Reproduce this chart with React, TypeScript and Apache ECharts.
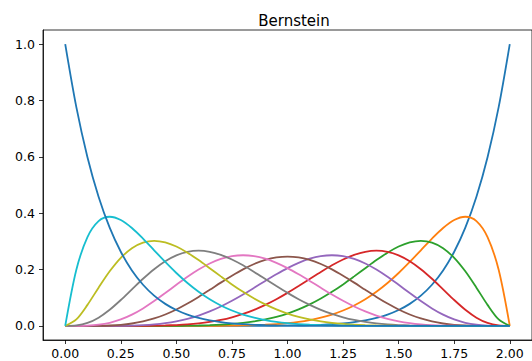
import React, { useEffect, useRef } from "react";
import * as echarts from "echarts";

const xValues = [
  0, 0.05, 0.1, 0.15, 0.2, 0.25, 0.3, 0.35, 0.4, 0.45, 0.5, 0.55, 0.6, 0.65, 0.7, 0.75, 0.8, 0.85, 0.9, 0.95,
  1.0, 1.05, 1.1, 1.15, 1.2, 1.25, 1.3, 1.35, 1.4, 1.45, 1.5, 1.55, 1.6, 1.65, 1.7, 1.75, 1.8, 1.85, 1.9, 1.95, 2.0,
];

// Bernstein basis b0..b10 read at the x positions above
const b0 = [1, 0.7763, 0.5987, 0.4586, 0.3487, 0.2631, 0.1969, 0.1461, 0.1074, 0.0782, 0.0563, 0.0401, 0.0282, 0.0196, 0.0135, 0.0091, 0.0060, 0.0040, 0.0025, 0.0016, 0.0010,
  0.0006, 0.0003, 0.0002, 0.0001, 0.0001, 0, 0, 0, 0, 0, 0, 0, 0, 0, 0, 0, 0, 0, 0, 0];
const b1 = [0, 0.1991, 0.3151, 0.3718, 0.3874, 0.3758, 0.3474, 0.3098, 0.2684, 0.2269, 0.1877, 0.1522, 0.1211, 0.0945, 0.0725, 0.0546, 0.0403, 0.0292, 0.0207, 0.0144, 0.0098,
  0.0065, 0.0042, 0.0026, 0.0016, 0.0009, 0.0005, 0.0003, 0.0001, 0.0001, 0, 0, 0, 0, 0, 0, 0, 0, 0, 0, 0];
const b2 = [0, 0.0230, 0.0746, 0.1357, 0.1937, 0.2416, 0.2759, 0.2957, 0.3020, 0.2965, 0.2816, 0.2598, 0.2335, 0.2048, 0.1757, 0.1473, 0.1209, 0.0971, 0.0763, 0.0586, 0.0439,
  0.0321, 0.0229, 0.0158, 0.0106, 0.0069, 0.0043, 0.0026, 0.0014, 0.0008, 0.0004, 0.0002, 0.0001, 0, 0, 0, 0, 0, 0, 0, 0];
const b3 = [0, 0.0016, 0.0105, 0.0293, 0.0574, 0.0920, 0.1298, 0.1673, 0.2013, 0.2295, 0.2503, 0.2628, 0.2668, 0.2630, 0.2522, 0.2357, 0.2150, 0.1914, 0.1665, 0.1414, 0.1172,
  0.0947, 0.0746, 0.0571, 0.0425, 0.0306, 0.0212, 0.0141, 0.0090, 0.0054, 0.0031, 0.0016, 0.0008, 0.0003, 0.0001, 0, 0, 0, 0, 0, 0];
const b4 = [0, 0.0001, 0.0010, 0.0042, 0.0112, 0.0230, 0.0401, 0.0621, 0.0881, 0.1166, 0.1460, 0.1744, 0.2001, 0.2216, 0.2377, 0.2475, 0.2508, 0.2476, 0.2384, 0.2238, 0.2051,
  0.1832, 0.1596, 0.1353, 0.1115, 0.0891, 0.0689, 0.0514, 0.0368, 0.0251, 0.0162, 0.0098, 0.0055, 0.0028, 0.0012, 0.0005, 0.0001, 0, 0, 0, 0];
const b5 = [0, 0, 0.0001, 0.0004, 0.0015, 0.0039, 0.0085, 0.0158, 0.0264, 0.0406, 0.0584, 0.0794, 0.1029, 0.1280, 0.1536, 0.1782, 0.2007, 0.2196, 0.2340, 0.2430, 0.2461,
  0.2430, 0.2340, 0.2196, 0.2007, 0.1782, 0.1536, 0.1280, 0.1029, 0.0794, 0.0584, 0.0406, 0.0264, 0.0158, 0.0085, 0.0039, 0.0015, 0.0004, 0.0001, 0, 0];
const b6 = [0, 0, 0, 0, 0.0001, 0.0005, 0.0012, 0.0028, 0.0055, 0.0098, 0.0162, 0.0251, 0.0368, 0.0514, 0.0689, 0.0891, 0.1115, 0.1353, 0.1596, 0.1832, 0.2051,
  0.2238, 0.2384, 0.2476, 0.2508, 0.2475, 0.2377, 0.2216, 0.2001, 0.1744, 0.1460, 0.1166, 0.0881, 0.0621, 0.0401, 0.0230, 0.0112, 0.0042, 0.0010, 0.0001, 0];
const b7 = [0, 0, 0, 0, 0, 0, 0.0001, 0.0003, 0.0008, 0.0016, 0.0031, 0.0054, 0.0090, 0.0141, 0.0212, 0.0306, 0.0425, 0.0571, 0.0746, 0.0947, 0.1172,
  0.1414, 0.1665, 0.1914, 0.2150, 0.2357, 0.2522, 0.2630, 0.2668, 0.2628, 0.2503, 0.2295, 0.2013, 0.1673, 0.1298, 0.0920, 0.0574, 0.0293, 0.0105, 0.0016, 0];
const b8 = [0, 0, 0, 0, 0, 0, 0, 0, 0.0001, 0.0002, 0.0004, 0.0008, 0.0014, 0.0026, 0.0043, 0.0069, 0.0106, 0.0158, 0.0229, 0.0321, 0.0439,
  0.0586, 0.0763, 0.0971, 0.1209, 0.1473, 0.1757, 0.2048, 0.2335, 0.2598, 0.2816, 0.2965, 0.3020, 0.2957, 0.2759, 0.2416, 0.1937, 0.1357, 0.0746, 0.0230, 0];
const b9 = [0, 0, 0, 0, 0, 0, 0, 0, 0, 0, 0, 0.0001, 0.0001, 0.0003, 0.0005, 0.0009, 0.0016, 0.0026, 0.0042, 0.0065, 0.0098,
  0.0144, 0.0207, 0.0292, 0.0403, 0.0546, 0.0725, 0.0945, 0.1211, 0.1522, 0.1877, 0.2269, 0.2684, 0.3098, 0.3474, 0.3758, 0.3874, 0.3718, 0.3151, 0.1991, 0];
const b10 = [0, 0, 0, 0, 0, 0, 0, 0, 0, 0, 0, 0, 0, 0, 0, 0.0001, 0.0001, 0.0002, 0.0003, 0.0006, 0.0010,
  0.0016, 0.0025, 0.0040, 0.0060, 0.0091, 0.0135, 0.0196, 0.0282, 0.0401, 0.0563, 0.0782, 0.1074, 0.1461, 0.1969, 0.2631, 0.3487, 0.4586, 0.5987, 0.7763, 1];

// drawing order (first drawn first) and matching colours
const curves = [b10, b9, b8, b7, b6, b5, b4, b3, b2, b1, b0];
const colors = ["#1f77b4", "#ff7f0e", "#2ca02c", "#d62728", "#9467bd", "#8c564b", "#e377c2", "#7f7f7f", "#bcbd22", "#17becf", "#1f77b4"];

const xTicks = [0, 0.25, 0.5, 0.75, 1.0, 1.25, 1.5, 1.75, 2.0];
const yTicks = [0, 0.2, 0.4, 0.6, 0.8, 1.0];

const FONT = "DejaVu Sans";

export default function App() {
  const ref = useRef<HTMLDivElement>(null);
  useEffect(() => {
    if (!ref.current) return;
    const chart = echarts.init(ref.current, undefined, { renderer: "svg" });
    chart.setOption({
      animation: false,
      backgroundColor: "#ffffff",
      title: {
        text: "Bernstein",
        left: 289,
        top: 8,
        textAlign: "center",
        textStyle: { fontFamily: FONT, fontSize: 15, fontWeight: "normal", color: "#000" },
      },
      grid: {
        left: 43,
        top: 30,
        bottom: 21,
        right: -2,
        show: true,
        borderColor: "#000",
        borderWidth: 0.8,
        backgroundColor: "transparent",
      },
      xAxis: {
        type: "value",
        min: -0.1,
        max: 2.1,
        splitLine: { show: false },
        axisLine: { show: true, onZero: false, lineStyle: { color: "#000", width: 0.8 } },
        axisTick: { show: true, length: 4, customValues: xTicks, lineStyle: { color: "#000", width: 0.8 } },
        axisLabel: {
          customValues: xTicks,
          formatter: (v: number) => v.toFixed(2),
          fontFamily: FONT,
          fontSize: 12.5,
          color: "#000",
          margin: 7,
        },
      },
      yAxis: {
        type: "value",
        min: -0.05,
        max: 1.05,
        splitLine: { show: false },
        axisLine: { show: true, onZero: false, lineStyle: { color: "#000", width: 0.8 } },
        axisTick: { show: true, length: 4, customValues: yTicks, lineStyle: { color: "#000", width: 0.8 } },
        axisLabel: {
          customValues: yTicks,
          formatter: (v: number) => v.toFixed(1),
          fontFamily: FONT,
          fontSize: 12.5,
          color: "#000",
          margin: 8,
        },
      },
      series: curves.map((c, i) => ({
        type: "line",
        data: xValues.map((x, j) => [x, c[j]]),
        smooth: 0.3,
        showSymbol: false,
        symbol: "none",
        lineStyle: { color: colors[i], width: 1.8 },
        itemStyle: { color: colors[i] },
        z: 2 + i,
      })),
    });
    return () => chart.dispose();
  }, []);
  return (
    <div
      ref={ref}
      style={{ position: "fixed", left: 0, top: 0, width: 532, height: 361 }}
    />
  );
}
